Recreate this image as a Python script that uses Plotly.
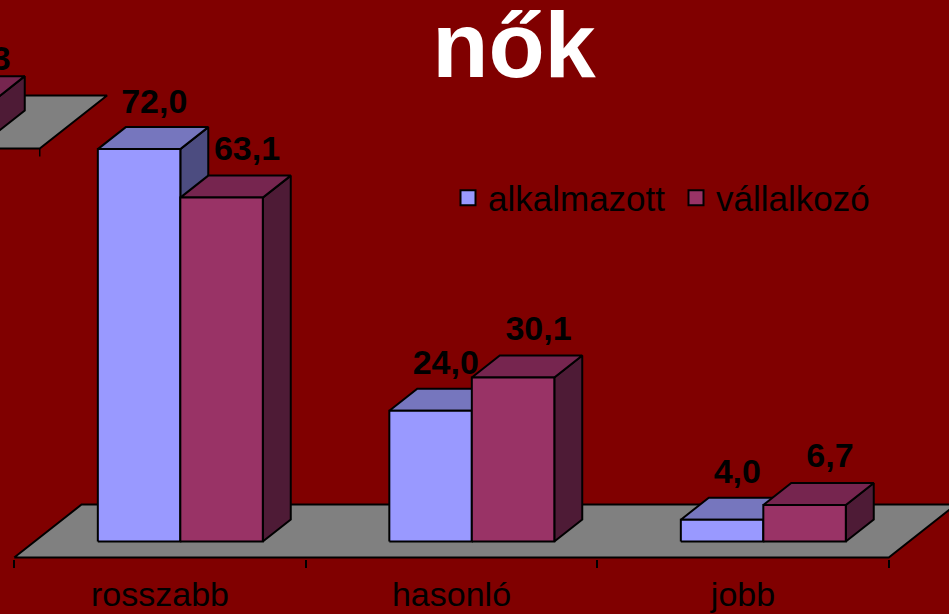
import plotly.graph_objects as go

# ---------------- data ----------------
categories = ["rosszabb", "hasonló", "jobb"]
alkalmazott = [72.0, 24.0, 4.0]
vallalkozo = [63.1, 30.1, 6.7]
series_names = ["alkalmazott", "vállalkozó"]
title_text = "nők"

# neighbouring chart, only its last bar peeks in at the top-left edge
frag_categories = ["jobb"]
frag_vallalkozo = [6.3]

# ---------------- geometry / style ----------------
W, H = 949, 614
PX_X = 291.5          # px per category step
PX_Y = 5.45           # px per value unit
X0_PX = 160           # pixel x of first category on the floor front edge
Y0_PX = 541.5         # pixel y of value 0 on the bar front plane
PLOT_BOTTOM = 559     # pixel y of bottom of plot area
DEPTH_SLOPE = 1.27    # oblique projection: x px per px of rise
D_BAR_FRONT = 16
D_BAR_BACK = 38
D_FLOOR = 53
BAR_W = 0.283
LABEL_D = {"alkalmazott": 28, "vállalkozó": 36}
LABEL_RAISE_PX = {"alkalmazott": 16, "vállalkozó": 9}
FRAG_LABEL_D = 27     # fragment label is right-anchored at the bar's right edge
FRAG_DX_PX = -849
FRAG_DY_PX = -409

FONT = "Liberation Sans, Arial, Helvetica, sans-serif"
BG = "#800000"
FLOOR = "#808080"
COLORS = {
    "alkalmazott": dict(front="#9999FF", top="#7676BE", side="#4C4C80"),
    "vállalkozó": dict(front="#993366", top="#76254F", side="#4E1B36"),
}

KX = DEPTH_SLOPE / PX_X
KY = 1.0 / PX_Y


def proj(x, h, d):
    return x + d * KX, h + (d - D_BAR_FRONT) * KY


def poly(pts, color, xa="x", ya="y"):
    xs, ys = [], []
    for p in pts + [pts[0]]:
        px, py = proj(*p)
        xs.append(px)
        ys.append(py)
    return go.Scatter(x=xs, y=ys, mode="lines", fill="toself", fillcolor=color,
                      line=dict(color="black", width=2), hoverinfo="skip",
                      showlegend=False, xaxis=xa, yaxis=ya)


def box(x0, x1, v, cols, xa="x", ya="y"):
    df, db = D_BAR_FRONT, D_BAR_BACK
    side = [(x1, 0, df), (x1, 0, db), (x1, v, db), (x1, v, df)]
    top = [(x0, v, df), (x1, v, df), (x1, v, db), (x0, v, db)]
    front = [(x0, 0, df), (x1, 0, df), (x1, v, df), (x0, v, df)]
    return [poly(side, cols["side"], xa, ya), poly(top, cols["top"], xa, ya),
            poly(front, cols["front"], xa, ya)]


def fmt(v):
    return f"{v:.1f}".replace(".", ",")


def label_pos(xc, v, name, d=None):
    lx, ly = proj(xc, v, LABEL_D[name] if d is None else d)
    return lx, ly + LABEL_RAISE_PX[name] * KY


LABEL_FONT = dict(family=FONT, size=34, color="black", weight="bold")

traces = []
n = len(categories)

# ---- fragment of the neighbouring chart (own axes x3/y3) ----
traces.append(poly([(-0.5, 0, 0), (n - 0.5, 0, 0), (n - 0.5, 0, D_FLOOR), (-0.5, 0, D_FLOOR)],
                   FLOOR, "x3", "y3"))
fx, fy = proj(n - 0.5, 0, 0)
traces.append(go.Scatter(x=[fx, fx], y=[fy, fy - 8 * KY], mode="lines",
                         line=dict(color="black", width=1.5), hoverinfo="skip",
                         showlegend=False, xaxis="x3", yaxis="y3"))
frag_lbl_x, frag_lbl_y = [], []
for cat, v in zip(frag_categories, frag_vallalkozo):
    i = categories.index(cat)
    traces += box(i, i + BAR_W, v, COLORS["vállalkozó"], "x3", "y3")
    lx, ly = label_pos(i + BAR_W, v, "vállalkozó", FRAG_LABEL_D)
    frag_lbl_x.append(lx)
    frag_lbl_y.append(ly)
traces.append(go.Scatter(x=frag_lbl_x, y=frag_lbl_y, mode="text",
                         text=[fmt(v) for v in frag_vallalkozo], textposition="top left",
                         textfont=LABEL_FONT, hoverinfo="skip", showlegend=False,
                         xaxis="x3", yaxis="y3", cliponaxis=False))

# ---- main floor ----
traces.append(poly([(-0.5, 0, 0), (n - 0.5, 0, 0), (n - 0.5, 0, D_FLOOR), (-0.5, 0, D_FLOOR)], FLOOR))

# ---- bars ----
series = [alkalmazott, vallalkozo]
offsets = [-BAR_W, 0.0]
for i in range(n):
    for name, vals, off in zip(series_names, series, offsets):
        traces += box(i + off, i + off + BAR_W, vals[i], COLORS[name])

# ---- value labels ----
for name, vals, off in zip(series_names, series, offsets):
    xs, ys = [], []
    for i, v in enumerate(vals):
        lx, ly = label_pos(i + off + BAR_W / 2, v, name)
        xs.append(lx)
        ys.append(ly)
    traces.append(go.Scatter(x=xs, y=ys, mode="text", text=[fmt(v) for v in vals],
                             textposition="top center", textfont=LABEL_FONT,
                             hoverinfo="skip", showlegend=False, cliponaxis=False))

# ---- category axis carrier ----
traces.append(go.Scatter(x=list(range(n)), y=[None] * n, mode="markers", xaxis="x2", yaxis="y",
                         hoverinfo="skip", showlegend=False))

# ---- legend entries ----
for name in series_names:
    traces.append(go.Scatter(x=[None], y=[None], mode="markers", name=name,
                             marker=dict(symbol="square", size=15, color=COLORS[name]["front"],
                                         line=dict(color="black", width=2))))

fig = go.Figure(traces)

xr = [(0 - X0_PX) / PX_X, (W - X0_PX) / PX_X]
yr = [(Y0_PX - PLOT_BOTTOM) / PX_Y, Y0_PX / PX_Y]
ydom = [(H - PLOT_BOTTOM) / H, 1]
x3r = [v - FRAG_DX_PX / PX_X for v in xr]
y3r = [v + FRAG_DY_PX / PX_Y for v in yr]

fig.update_layout(
    width=W, height=H,
    margin=dict(l=0, r=0, t=0, b=0),
    paper_bgcolor=BG, plot_bgcolor="rgba(0,0,0,0)",
    font=dict(family=FONT, color="black"),
    title=dict(text="<b>" + title_text + "</b>", x=514 / W, xanchor="center",
               y=1 - 45 / H, yanchor="middle", xref="paper", yref="paper",
               font=dict(family=FONT, size=92, color="white")),
    xaxis=dict(range=xr, domain=[0, 1], anchor="y", showgrid=False, zeroline=False,
               showline=False, showticklabels=False, ticks="outside", ticklen=8,
               tickwidth=1.5, tickcolor="black",
               tickvals=[i - 0.5 for i in range(n + 1)]),
    xaxis2=dict(range=xr, domain=[0, 1], anchor="y", overlaying="x", showgrid=False,
                zeroline=False, showline=False, ticks="", tickvals=list(range(n)),
                ticktext=categories, side="bottom", ticklabelstandoff=12,
                tickfont=dict(family=FONT, size=34, color="black")),
    yaxis=dict(range=yr, domain=ydom, visible=False, showgrid=False, zeroline=False),
    xaxis3=dict(range=x3r, domain=[0, 1], anchor="y3", overlaying="x", visible=False),
    yaxis3=dict(range=y3r, domain=ydom, anchor="x3", overlaying="y", visible=False),
    showlegend=True,
    legend=dict(orientation="h", x=448 / W, xanchor="left", y=1 - 198 / H, yanchor="middle",
                bgcolor="rgba(0,0,0,0)", font=dict(family=FONT, size=35, color="black"),
                entrywidth=183, entrywidthmode="pixels",
                itemclick=False, itemdoubleclick=False),
)

fig.write_html("out.html", config={"displayModeBar": False},
               post_script="document.body.style.margin='0';")
